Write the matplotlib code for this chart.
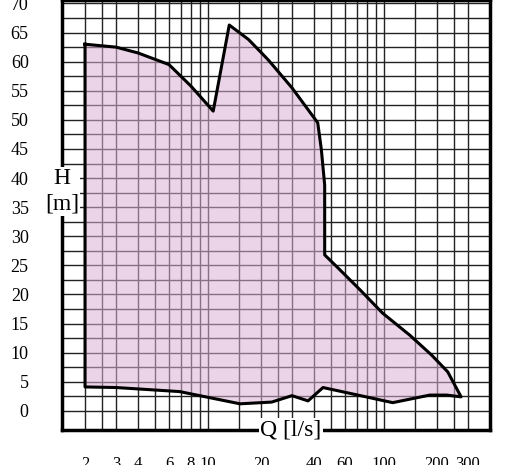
import numpy as np
import matplotlib.pyplot as plt
from matplotlib.transforms import blended_transform_factory

# upper envelope (Q l/s, H m)
upper_q = [2, 3, 4, 6, 8, 10.7, 13.2, 17, 22, 30, 42, 44, 46, 46, 55, 73, 98, 140, 186, 230, 274]
upper_h = [63, 62.5, 61.5, 59.5, 55.8, 51.5, 66.3, 63.8, 60.3, 55.5, 49.5, 45, 38.8, 26.8,
           24.5, 20.8, 16.8, 13, 9.6, 6.7, 2.4]
# lower envelope
lower_q = [2, 3, 6.9, 15.2, 23, 30, 37, 45, 112, 182, 227, 274]
lower_h = [4.1, 4.0, 3.3, 1.2, 1.5, 2.6, 1.7, 4, 1.4, 2.7, 2.7, 2.4]

y_ticks = [0, 5, 10, 15, 20, 25, 30, 35, 40, 45, 50, 55, 60, 65, 70]
x_labels = [2, 3, 4, 6, 8, 10, 20, 40, 60, 100, 200, 300]
x_grid = [2, 2.5, 3, 4, 5, 6, 7, 8, 9, 10, 15, 20, 25, 30, 40, 50, 60, 70, 80, 90,
          100, 150, 200, 250, 300, 400]


def main():
    plt.rcParams['font.family'] = ['Liberation Serif', 'DejaVu Serif']
    fig = plt.figure(figsize=(5.1, 4.65), dpi=100)
    ax = fig.add_axes([62 / 510, 35 / 465, 428 / 510, 430 / 465])
    ax.set_xscale('log')
    ax.set_xlim(1.48, 400)
    ax.set_ylim(-3.3, 70.6)

    for q in x_grid:
        ax.axvline(q, color='#222222', lw=1.0, zorder=1)
    for h in np.arange(0, 71, 2.5):
        ax.axhline(h, color='#222222', lw=1.0, zorder=1)

    poly_q = upper_q + lower_q[::-1]
    poly_h = upper_h + lower_h[::-1]
    ax.fill(poly_q, poly_h, color='#dcb2d6', alpha=0.55, lw=0, zorder=2)
    ax.plot(poly_q + [poly_q[0]], poly_h + [poly_h[0]], color='black', lw=2.2, zorder=3)

    ax.set_xticks([])
    ax.set_xticks([], minor=True)
    ax.set_yticks(y_ticks)
    ax.set_yticklabels([str(v) for v in y_ticks], fontsize=13)
    ax.tick_params(axis='y', length=0, pad=24)
    for s in ax.spines.values():
        s.set_linewidth(2.5)

    tr = blended_transform_factory(ax.transData, ax.transAxes)
    for q in x_labels:
        ax.text(q, -0.06, str(q), transform=tr, ha='center', va='top', fontsize=12)

    ax.text(0.535, 0.0, 'Q [l/s]', transform=ax.transAxes, ha='center', va='center',
            fontsize=17, zorder=5, bbox=dict(facecolor='white', edgecolor='none', pad=1))
    ax.text(0.0, 0.555, 'H\n[m]', transform=ax.transAxes, ha='center', va='center',
            fontsize=17, zorder=5, linespacing=1.3,
            bbox=dict(facecolor='white', edgecolor='none', pad=1))
    for t in ax.texts[-2:]:
        t.set_clip_on(False)

    fig.savefig('out.png')


if __name__ == "__main__":
    main()
